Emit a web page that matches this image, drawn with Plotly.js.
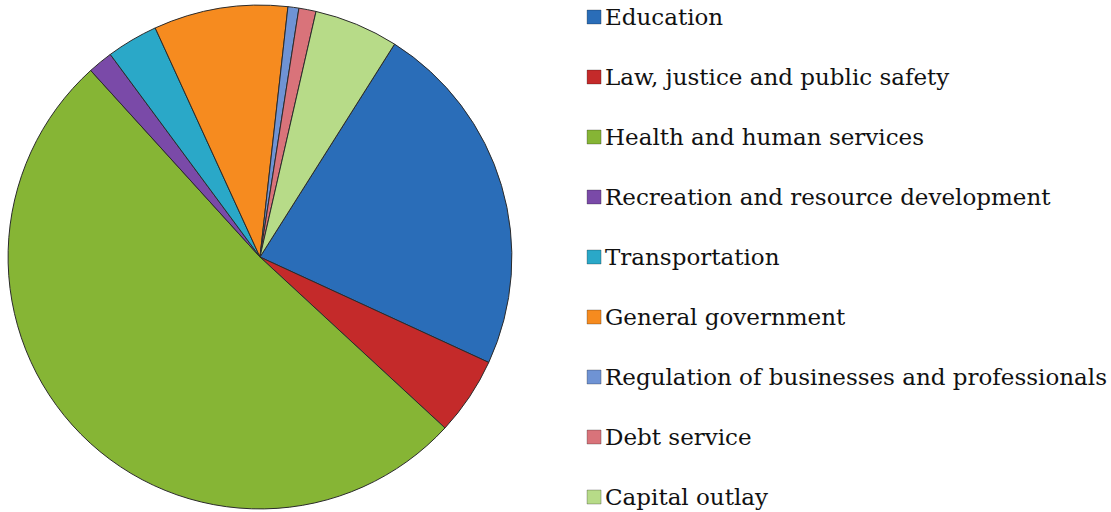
<!DOCTYPE html>
<html>
<head>
<meta charset="utf-8">
<script src="https://cdn.plot.ly/plotly-3.0.1.min.js"></script>
<style>html,body{margin:0;padding:0;background:#fff;}#chart{width:1111px;height:512px;}</style>
</head>
<body>
<div id="chart"></div>
<script>
// Categories (legend order) and their shares (percent)
const categories = [
  "Education",
  "Law, justice and public safety",
  "Health and human services",
  "Recreation and resource development",
  "Transportation",
  "General government",
  "Regulation of businesses and professionals",
  "Debt service",
  "Capital outlay"
];
const shares = [22.9, 5.0, 51.4, 1.6, 3.3, 8.6, 0.7, 1.1, 5.4];
const sliceColors = ["#2A6DB8", "#C42A2A", "#86B535", "#7A4AA8", "#2AA8C8",
                     "#F68B1F", "#6F93D4", "#D9737A", "#B7DB88"];

const serif = "DejaVu Serif";

const pie = {
  type: "pie",
  labels: categories,
  values: shares,
  sort: false,
  direction: "clockwise",
  rotation: 32.3,
  textinfo: "none",
  hoverinfo: "label+percent",
  marker: { colors: sliceColors, line: { color: "#2b2b2b", width: 1 } },
  domain: { x: [0.0072, 0.4608], y: [0.006, 0.990] },
  showlegend: false
};

// Legend squares drawn as a scatter on hidden axes (spacing like the original)
const legendTrace = {
  type: "scatter",
  mode: "markers",
  x: categories.map(() => 0),
  y: categories,
  marker: { symbol: "square", size: 14, color: sliceColors, line: { color: "rgba(0,0,0,0.25)", width: 1 } },
  xaxis: "x", yaxis: "y",
  hoverinfo: "skip",
  showlegend: false,
  cliponaxis: false
};

// Legend labels as annotations anchored at the same categories
const labelAnnotations = categories.map((c) => ({
  xref: "x", yref: "y", x: 0, y: c,
  text: c, showarrow: false,
  xanchor: "left", yanchor: "middle",
  xshift: 9,
  font: { family: serif, size: 23, color: "#111111" }
}));

const layout = {
  width: 1111, height: 512,
  margin: { l: 0, r: 0, t: 0, b: 0 },
  font: { family: serif, size: 23, color: "#111111" },
  paper_bgcolor: "#ffffff",
  plot_bgcolor: "rgba(0,0,0,0)",
  showlegend: false,
  annotations: labelAnnotations,
  xaxis: { domain: [0.5347, 0.99], range: [0, 1], visible: false, fixedrange: true },
  yaxis: { domain: [0.0, 1.0], type: "category", autorange: false,
           range: [8.25, -0.2833], visible: false, fixedrange: true }
};

Plotly.newPlot("chart", [pie, legendTrace], layout, { displayModeBar: false, staticPlot: true });
</script>
</body>
</html>
